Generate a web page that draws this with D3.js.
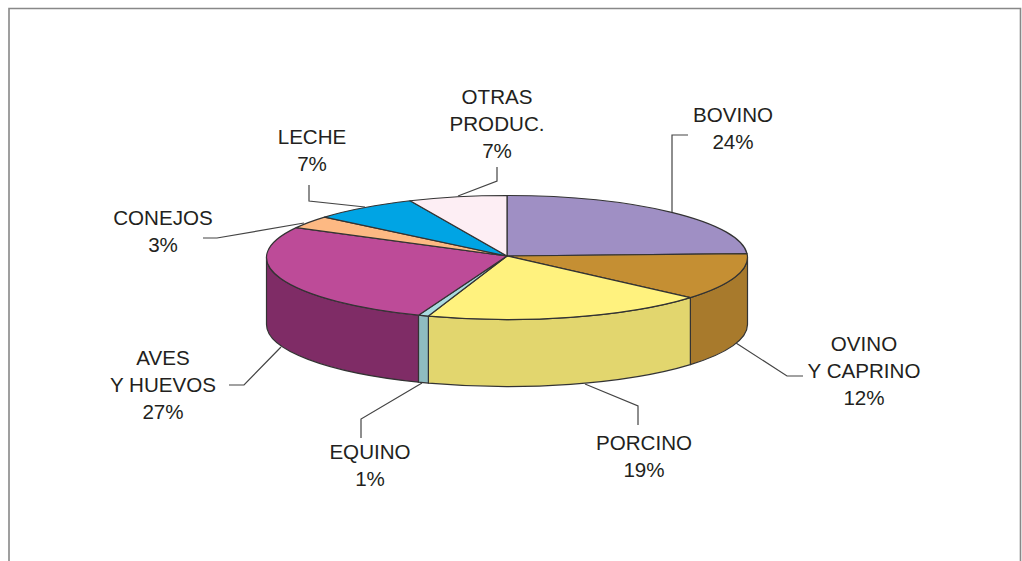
<!DOCTYPE html>
<html>
<head>
<meta charset="utf-8">
<script src="https://cdn.jsdelivr.net/npm/d3@7"></script>
<style>
  html, body { margin: 0; padding: 0; background: #fff; }
  svg { display: block; }
  text { font-family: "Liberation Sans", Arial, sans-serif; font-size: 20.6px; fill: #231f20; }
</style>
</head>
<body>
<div id="chart"></div>
<script>
// values, the printed % are in shares
var categories = ['BOVINO', 'OVINO Y CAPRINO', 'PORCINO', 'EQUINO', 'AVES Y HUEVOS', 'CONEJOS', 'LECHE', 'OTRAS PRODUC.'];
var values = [24, 12.2, 19.1, 0.7, 27, 3.3, 7.1, 6.6];
var shares = ['24%', '12%', '19%', '1%', '27%', '3%', '7%', '7%'];

var topColors = ['#9f8fc4', '#c58f33', '#fff27e', '#a9dbe0', '#bd4b98', '#fdb983', '#00a4e4', '#fdeef4'];
var sideColors = ['#9f8fc4', '#a87a2c', '#e2d66e', '#8fbcc1', '#7f2c66', '#fdb983', '#00a4e4', '#fdeef4'];

var w = 1022,
    h = 561;

// apex sits a little above the middle of the rim
var cx = 507, cy = 257.5, apexY = 256, rx = 240.5, ry = 62, depth = 67;

var x = d3.scaleLinear().domain([-1, 1]).range([cx - rx, cx + rx]);
var y = d3.scaleLinear().domain([-1, 1]).range([cy - ry, cy + ry]);

var pie = d3.pie().sort(null).value(function (d) { return d; });
var slices = pie(values);

var svg = d3.select('#chart').append('svg').attr('width', w).attr('height', h);

// frame runs off the bottom of the picture
svg.append('path')
   .attr('d', 'M9,' + (h + 5) + 'V8.5H1020.5V' + (h + 5))
   .attr('fill', 'none')
   .attr('stroke', '#888')
   .attr('stroke-width', 1.6);

var px = function (a) { return x(Math.sin(a)); };
var py = function (a) { return y(-Math.cos(a)); };

var wallPath = function (a0, a1) {
  return 'M' + px(a0) + ',' + py(a0) +
         'A' + rx + ',' + ry + ' 0 0 1 ' + px(a1) + ',' + py(a1) +
         'L' + px(a1) + ',' + (py(a1) + depth) +
         'A' + rx + ',' + ry + ' 0 0 0 ' + px(a0) + ',' + (py(a0) + depth) + 'Z';
};

var topPath = function (d) {
  var large = d.endAngle - d.startAngle > Math.PI ? 1 : 0;
  return 'M' + cx + ',' + apexY +
         'L' + px(d.startAngle) + ',' + py(d.startAngle) +
         'A' + rx + ',' + ry + ' 0 ' + large + ' 1 ' + px(d.endAngle) + ',' + py(d.endAngle) + 'Z';
};

// only the front half of the rim is visible
var walls = slices.filter(function (d) {
  return d.endAngle > Math.PI / 2 && d.startAngle < Math.PI * 1.5;
});

svg.selectAll('.wall')
   .data(walls)
   .enter().append('path')
   .attr('class', 'wall')
   .attr('d', function (d) {
     return wallPath(Math.max(d.startAngle, Math.PI / 2), Math.min(d.endAngle, Math.PI * 1.5));
   })
   .attr('fill', function (d) { return sideColors[d.index]; })
   .attr('stroke', '#333')
   .attr('stroke-width', 1.2)
   .attr('stroke-linejoin', 'round');

svg.selectAll('.slice')
   .data(slices)
   .enter().append('path')
   .attr('class', 'slice')
   .attr('d', topPath)
   .attr('fill', function (d) { return topColors[d.index]; })
   .attr('stroke', '#333')
   .attr('stroke-width', 1.2)
   .attr('stroke-linejoin', 'round');

// label placement, same order as categories
var labelLines = [['BOVINO'], ['OVINO', 'Y CAPRINO'], ['PORCINO'], ['EQUINO'], ['AVES', 'Y HUEVOS'], ['CONEJOS'], ['LECHE'], ['OTRAS', 'PRODUC.']];
var labelPos = [[733, 122], [864, 351], [644, 450], [370, 459], [163, 365], [163, 225], [312, 144], [497, 104]];
var leaders = [
  [[672, 212], [672, 135], [688, 135]],
  [[736, 343], [787, 376], [803, 376]],
  [[585, 384], [638, 406], [638, 425]],
  [[422, 383], [361, 419], [361, 438]],
  [[281, 347], [244, 385], [229, 385]],
  [[304, 223], [217, 238], [203, 238]],
  [[365, 207], [309, 201], [309, 185]],
  [[458, 196], [497, 181], [497, 167]]
];

svg.selectAll('.leader')
   .data(leaders)
   .enter().append('path')
   .attr('class', 'leader')
   .attr('d', d3.line())
   .attr('fill', 'none')
   .attr('stroke', '#444')
   .attr('stroke-width', 1.2);

var labels = svg.selectAll('.label')
   .data(categories)
   .enter().append('text')
   .attr('class', 'label')
   .attr('text-anchor', 'middle')
   .attr('transform', function (d, i) { return 'translate(' + labelPos[i] + ')'; });

labels.selectAll('tspan')
   .data(function (d, i) { return labelLines[i].concat(shares[i]); })
   .enter().append('tspan')
   .attr('x', 0)
   .attr('y', function (d, i) { return i * 27; })
   .text(function (d) { return d; });
</script>
</body>
</html>
